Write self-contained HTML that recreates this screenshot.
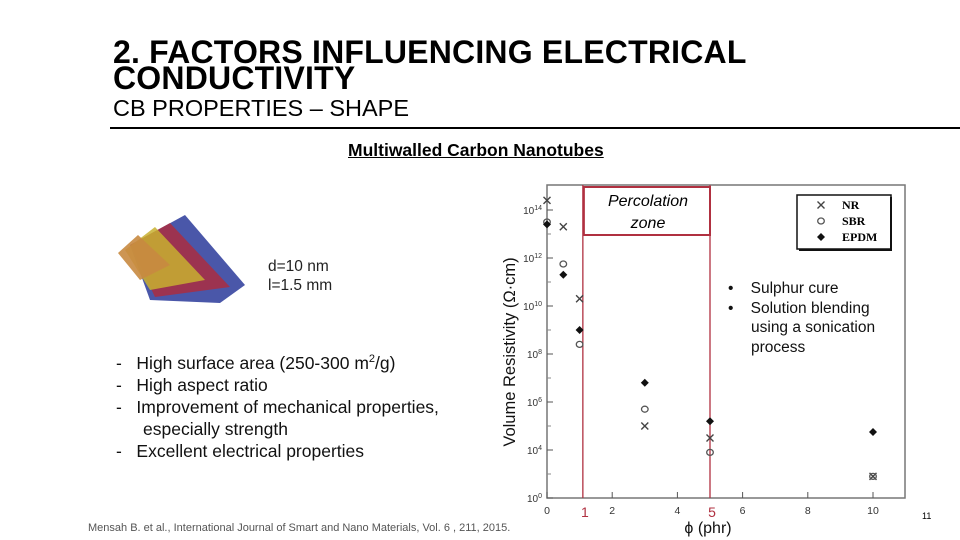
<!DOCTYPE html>
<html><head><meta charset="utf-8"><style>
body{margin:0;width:960px;height:540px;background:#fff;overflow:hidden;font-family:"Liberation Sans",sans-serif;position:relative}
.a{position:absolute;white-space:nowrap}
</style></head><body>
<div class="a" style="left:113px;top:39px;font-size:32px;font-weight:bold;line-height:26px;letter-spacing:0.2px">2. FACTORS INFLUENCING ELECTRICAL<br>CONDUCTIVITY</div>
<div class="a" style="left:113px;top:95px;font-size:23.5px">CB PROPERTIES – SHAPE</div>
<div class="a" style="left:110px;top:127px;width:850px;height:2px;background:#000"></div>
<div class="a" style="left:348px;top:140px;font-size:17.5px;font-weight:bold;text-decoration:underline">Multiwalled Carbon Nanotubes</div>
<svg class="a" style="left:110px;top:205px" width="160" height="100">
<path d="M20,40 L75,10 L135,80 L110,98 L40,95 Z" fill="#2a3a9a" opacity="0.85"/>
<path d="M20,40 L60,18 L120,82 L45,92 Z" fill="#b02a3a" opacity="0.8"/>
<path d="M15,45 L45,22 L95,75 L40,85 Z" fill="#c8b030" opacity="0.85"/>
<path d="M8,48 L28,30 L60,60 L30,75 Z" fill="#c88a40" opacity="0.9"/>
</svg>
<div class="a" style="left:268px;top:257px;font-size:15.5px;line-height:19px;color:#222">d=10 nm<br>l=1.5 mm</div>
<div class="a" style="left:116px;top:348px;font-size:17.5px;line-height:22px;color:#111">
<div>-&nbsp;&nbsp; High surface area (250-300 m<sup style="font-size:11px">2</sup>/g)</div>
<div>-&nbsp;&nbsp; High aspect ratio</div>
<div>-&nbsp;&nbsp; Improvement of mechanical properties,</div>
<div style="padding-left:27px">especially strength</div>
<div>-&nbsp;&nbsp; Excellent electrical properties</div>
</div>
<div class="a" style="left:88px;top:522px;font-size:11px;color:#555">Mensah B. et al., International Journal of Smart and Nano Materials, Vol. 6 , 211, 2015.</div>
<div class="a" style="left:922px;top:511px;font-size:9px">11</div>
<svg id="chart" class="a" style="left:0;top:0" width="960" height="540"></svg>
<script>
const xTicks=[0,2,4,6,8,10];
const yTickExp=[2,4,6,8,10,12,14];
const yTickLabels=['0','4','6','8','10','12','14'];
const phi=[0,0.5,1,3,5,10];
const nrExp=[14.4,13.3,10.3,5.0,4.5,2.9];
const sbrExp=[13.5,11.75,8.4,5.7,3.9,2.9];
const epdmExp=[13.4,11.3,9.0,6.8,5.2,4.75];
const NS='http://www.w3.org/2000/svg';
const svg=document.getElementById('chart');
const X=v=>547+v*32.6;
const Y=e=>450-(e-4)*24;
function mk(t,a,p){const e=document.createElementNS(NS,t);for(const k in a)e.setAttribute(k,a[k]);(p||svg).appendChild(e);return e;}
let f=mk('rect',{x:547,y:185,width:358,height:313,fill:'none',stroke:'#777','stroke-width':1.5});


xTicks.forEach(v=>{
 let l=mk('line',{x1:X(v),x2:X(v),y1:498,y2:492,stroke:'#555'});
 
 
 let t=mk('text',{x:X(v),y:514,'font-size':10.5,'text-anchor':'middle',fill:'#333'});t.textContent=v;
 
 
});
yTickExp.forEach((e,i)=>{
 let l=mk('line',{x1:547,x2:553,y1:Y(e),y2:Y(e),stroke:'#555'});
 
 
 if(e<14){let m=mk('line',{x1:547,x2:551,y1:Y(e+1),y2:Y(e+1),stroke:'#888'});
 
 }
 let t=mk('text',{x:542,y:Y(e)+4,'font-size':10,'text-anchor':'end',fill:'#333'});
 t.textContent='10';let s=mk('tspan',{dy:-4,'font-size':7},t);s.textContent=yTickLabels[i];
 
 
});
let yt=mk('text',{x:0,y:0,'font-size':16.5,'text-anchor':'middle',transform:'translate(515,352) rotate(-90)',fill:'#111'});
yt.textContent='Volume Resistivity (Ω·cm)';


let xt=mk('text',{x:708,y:533,'font-size':16,'text-anchor':'middle',fill:'#111'});
xt.textContent='ϕ (phr)';


[1.1,5].forEach(v=>{let l=mk('line',{x1:X(v),x2:X(v),y1:185,y2:498,stroke:'#b03040','stroke-width':1.3});


let t=mk('text',{x:X(v)+2,y:517,'font-size':14,'text-anchor':'middle',fill:'#b03040'});t.textContent=v===5?'5':'1';

});
let pb=mk('rect',{x:X(1.1)+1,y:187,width:X(5)-X(1.1)-1,height:48,fill:'#fff',stroke:'#b03040','stroke-width':2});


let pt=mk('text',{x:648,y:206,'font-size':16,'font-style':'italic','text-anchor':'middle'});pt.textContent='Percolation';


let pt2=mk('text',{x:648,y:228,'font-size':16,'font-style':'italic','text-anchor':'middle'});pt2.textContent='zone';


function marker(type,cx,cy,g){
 if(type==='x'){mk('path',{d:`M${cx-3.5},${cy-3.5}L${cx+3.5},${cy+3.5}M${cx-3.5},${cy+3.5}L${cx+3.5},${cy-3.5}`,stroke:'#444','stroke-width':1.4},g);}
 else if(type==='o'){mk('ellipse',{cx,cy,rx:3.3,ry:3,fill:'none',stroke:'#555','stroke-width':1.3},g);}
 else{mk('path',{d:`M${cx},${cy-4}L${cx+4},${cy}L${cx},${cy+4}L${cx-4},${cy}Z`,fill:'#111'},g);}
}
[[nrExp,'x','series-nr'],[sbrExp,'o','series-sbr'],[epdmExp,'d','series-epdm']].forEach(([arr,ty,nm])=>{
 const g=mk('g',{});
 
 
 arr.forEach((e,i)=>marker(ty,X(phi[i]),Y(e),g));
});
const lg=mk('g',{});


mk('rect',{x:797,y:195,width:94,height:54,fill:'#fff',stroke:'#111','stroke-width':1.5},lg);
mk('path',{d:'M891,197V250H799',stroke:'#111','stroke-width':2,fill:'none'},lg);
[['x','NR'],['o','SBR'],['d','EPDM']].forEach(([ty,n],i)=>{
 marker(ty,821,205+i*16,lg);
 let t=mk('text',{x:842,y:209+i*16,'font-size':12,'font-weight':'bold','font-family':'Liberation Serif'},lg);t.textContent=n;
});
</script>
<div class="a" style="left:728px;top:279px;font-size:15.5px;line-height:19.5px;color:#111">
<div>•&nbsp;&nbsp;&nbsp; Sulphur cure</div>
<div>•&nbsp;&nbsp;&nbsp; Solution blending</div>
<div style="padding-left:23px">using a sonication</div>
<div style="padding-left:23px">process</div>
</div>
</body></html>
